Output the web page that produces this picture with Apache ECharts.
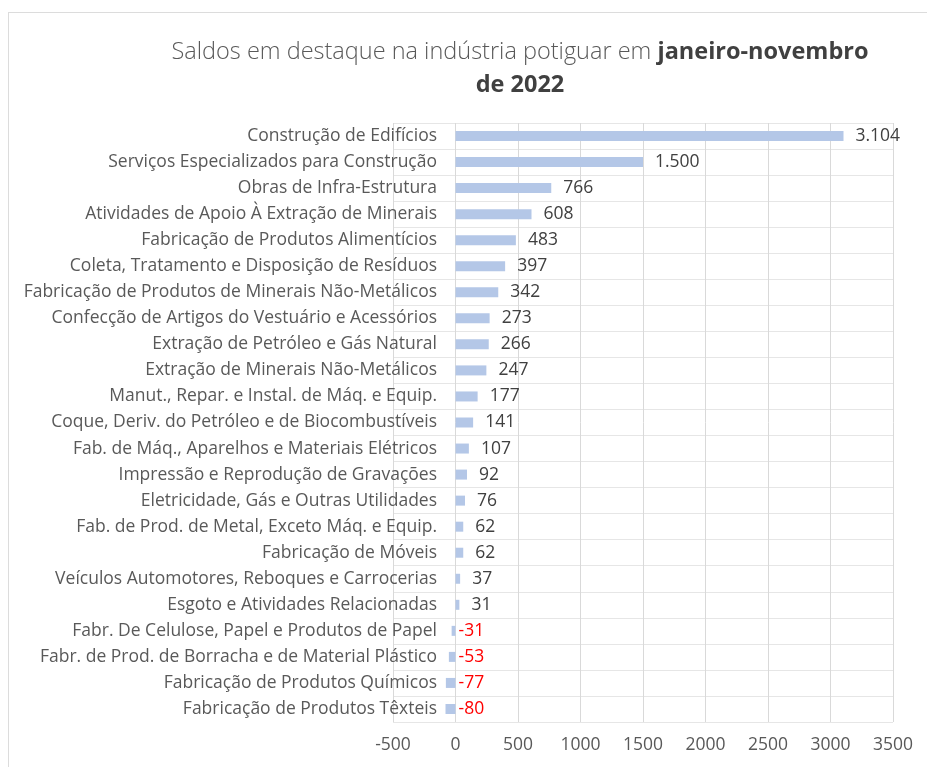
<!DOCTYPE html>
<html>
<head>
<meta charset="utf-8">
<script src="https://cdn.jsdelivr.net/npm/echarts@6/dist/echarts.min.js"></script>
<style>
  html, body { margin: 0; padding: 0; background: #fff; }
  #frame { position: absolute; left: 8px; top: 12px; width: 940px; height: 780px; border: 1px solid #dcdcdc; }
  #chart { position: absolute; left: 0; top: 0; width: 927px; height: 767px; }
</style>
</head>
<body>
<div id="frame"></div>
<div id="chart"></div>
<script>
var categories = [
    'Construção de Edifícios',
    'Serviços Especializados para Construção',
    'Obras de Infra-Estrutura',
    'Atividades de Apoio À Extração de Minerais',
    'Fabricação de Produtos Alimentícios',
    'Coleta, Tratamento e Disposição de Resíduos',
    'Fabricação de Produtos de Minerais Não-Metálicos',
    'Confecção de Artigos do Vestuário e Acessórios',
    'Extração de Petróleo e Gás Natural',
    'Extração de Minerais Não-Metálicos',
    'Manut., Repar. e Instal. de Máq. e Equip.',
    'Coque, Deriv. do Petróleo e de Biocombustíveis',
    'Fab. de Máq., Aparelhos e Materiais Elétricos',
    'Impressão e Reprodução de Gravações',
    'Eletricidade, Gás e Outras Utilidades',
    'Fab. de Prod. de Metal, Exceto Máq. e Equip.',
    'Fabricação de Móveis',
    'Veículos Automotores, Reboques e Carrocerias',
    'Esgoto e Atividades Relacionadas',
    'Fabr. De Celulose, Papel e Produtos de Papel',
    'Fabr. de Prod. de Borracha e de Material Plástico',
    'Fabricação de Produtos Químicos',
    'Fabricação de Produtos Têxteis'
];
var saldos = [3104, 1500, 766, 608, 483, 397, 342, 273, 266, 247, 177, 141, 107, 92, 76, 62, 62, 37, 31, -31, -53, -77, -80];

var axisMin = -500;
var axisMax = 3500;
var axisStep = 500;

function fmt(v) {
    var s = Math.abs(v).toString().replace(/\B(?=(\d{3})+(?!\d))/g, '.');
    return (v < 0 ? '-' : '') + s;
}

var font = '"Open Sans", "Noto Sans", sans-serif';
var fs = 17.5;

var chart = echarts.init(document.getElementById('chart'));

var barData = saldos.map(function (v) {
    return {
        value: v,
        label: v < 0
            ? { position: 'right', distance: 3, color: '#ff0000' }
            : { position: 'right', distance: 12, color: '#404040' }
    };
});

var option = {
    animation: false,
    textStyle: { fontFamily: font },
    title: {
        text: '{n|Saldos em destaque na indústria potiguar em }{b|janeiro-novembro}\n{b|de 2022}',
        left: 515,
        textAlign: 'center',
        top: 31,
        textStyle: {
            rich: {
                n: { fontFamily: font, fontSize: 23.5, fontWeight: 300, color: '#595959', lineHeight: 33 },
                b: { fontFamily: font, fontSize: 23.5, fontWeight: 'bold', color: '#404040', lineHeight: 33 }
            }
        }
    },
    grid: { left: 393, right: 34, top: 123, bottom: 45, containLabel: false },
    xAxis: {
        type: 'value',
        min: axisMin,
        max: axisMax,
        interval: axisStep,
        axisLine: { show: false },
        axisTick: { show: false },
        axisLabel: { color: '#595959', fontSize: fs, margin: 14, formatter: function (v) { return String(v); } },
        splitLine: { show: true, lineStyle: { color: '#d9d9d9', width: 1 } }
    },
    yAxis: {
        type: 'category',
        inverse: true,
        data: categories,
        axisLine: { show: false },
        axisTick: { show: false },
        // labels sit next to the zero line, inside the negative part of the plot
        axisLabel: { color: '#595959', fontSize: fs, margin: -44 },
        splitLine: { show: true, lineStyle: { color: '#e6e6e6' } }
    },
    series: [{
        type: 'bar',
        data: barData,
        barWidth: 10,
        itemStyle: { color: '#b4c7e7' },
        label: {
            show: true,
            fontSize: fs,
            fontFamily: font,
            formatter: function (p) { return fmt(p.value); }
        }
    }]
};
chart.setOption(option);
</script>
</body>
</html>
